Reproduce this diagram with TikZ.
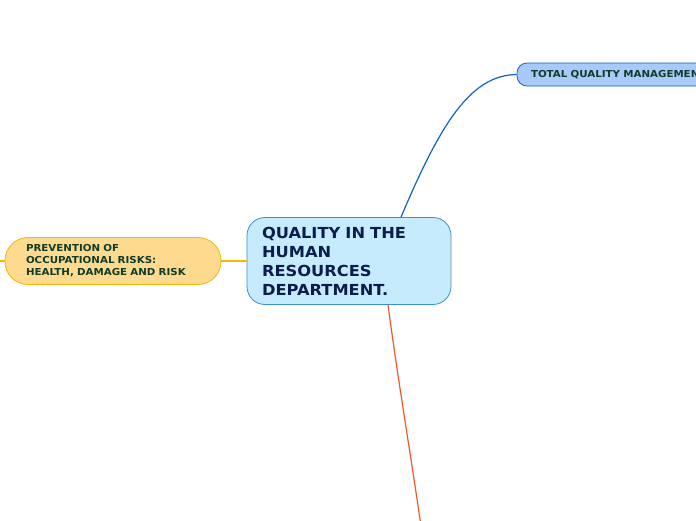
\documentclass[tikz,border=0pt]{standalone}
\usepackage{fontspec}
\setmainfont[FakeStretch=1.07]{DejaVu Sans}
\usepackage{tikz}
\usetikzlibrary{positioning}

\definecolor{mainfill}{HTML}{C6EBFC}
\definecolor{mainline}{HTML}{3C8FD2}
\definecolor{maintext}{HTML}{0B1E4B}
\definecolor{riskfill}{HTML}{FDDA8D}
\definecolor{riskline}{HTML}{F4B70B}
\definecolor{tqmfill}{HTML}{A9C9F9}
\definecolor{tqmline}{HTML}{1160D2}
\definecolor{leaftext}{HTML}{0F3D2A}
\definecolor{redline}{HTML}{F0582A}

\tikzset{
    topic/.style={draw, line width=0.8pt, align=left, font=\bfseries},
}

\begin{document}
\begin{tikzpicture}[x=1pt, y=-1pt]

% Page frame
\useasboundingbox (0,0) rectangle (696,520);
\clip (0,0) rectangle (696,520);

% Central topic
\node[topic, fill=mainfill, draw=mainline, text=maintext, rounded corners=18pt,
      minimum width=204pt, minimum height=87pt, text width=174pt, inner xsep=15pt,
      font=\bfseries\fontsize{15.2}{19}\selectfont]
    (qhr) at (349,261) {QUALITY IN THE\\HUMAN\\RESOURCES\\DEPARTMENT.};

% Left branch
\node[topic, fill=riskfill, draw=riskline, text=leaftext, rounded corners=23pt,
      minimum width=216pt, minimum height=47pt, text width=174pt, inner xsep=21pt,
      font=\bfseries\fontsize{9.6}{12}\selectfont]
    (risk) at (113,261) {PREVENTION OF\\OCCUPATIONAL RISKS:\\HEALTH, DAMAGE AND RISK};

% Upper right branch
\node[topic, fill=tqmfill, draw=tqmline, text=leaftext, rounded corners=10pt,
      minimum width=220pt, minimum height=23pt, text width=192pt, inner xsep=14pt,
      font=\bfseries\fontsize{9.6}{12}\selectfont]
    (tqm) at (627,74.5) {TOTAL QUALITY MANAGEMENT};

% Free ends
\coordinate (riskend) at (-2,261);
\coordinate (lowend) at (421,526);

% Connectors
\draw[riskline, line width=1.2pt] (qhr.west) -- (risk.east);
\draw[riskline, line width=1.2pt] (risk.west) -- (riskend);
\draw[tqmline, line width=1.2pt] ([xshift=52pt]qhr.north)
    .. controls (440,125) and (470,75) .. (tqm.west);
\draw[redline, line width=1.2pt] ([xshift=39pt]qhr.south)
    .. controls (398,380) and (410,450) .. (lowend);

\end{tikzpicture}
\end{document}
